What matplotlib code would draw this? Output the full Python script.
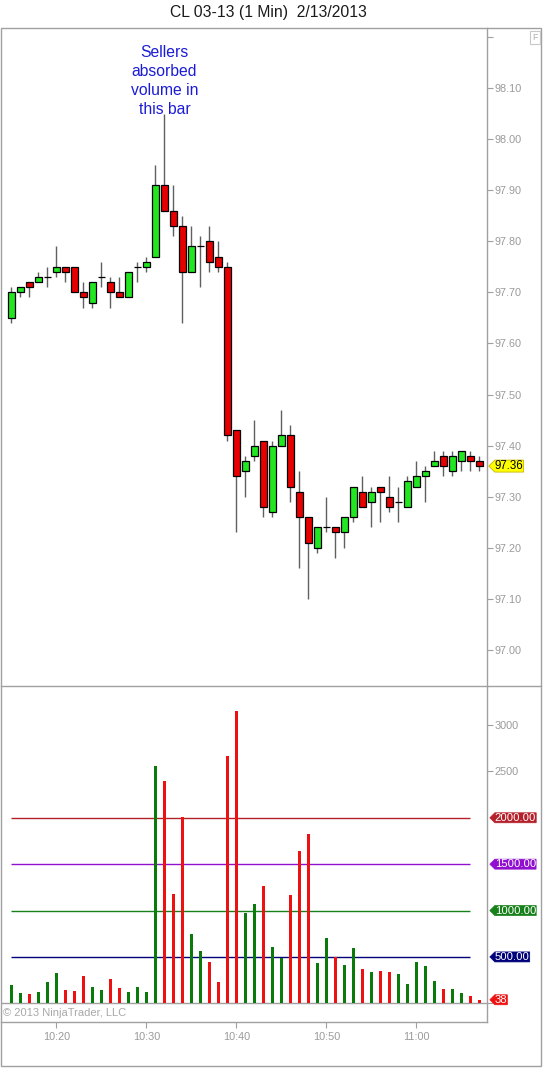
import matplotlib
matplotlib.use("Agg")
import matplotlib.pyplot as plt
import numpy as np
import pandas as pd
from matplotlib.path import Path
from matplotlib.ticker import FixedLocator, FuncFormatter
from matplotlib.patches import Rectangle
from matplotlib.lines import Line2D

plt.rcParams['font.family'] = ['Liberation Sans', 'DejaVu Sans']

# ---------------- data ----------------
times = pd.date_range("2013-02-13 10:15", "2013-02-13 11:07", freq="1min")

opens = [97.65, 97.70, 97.72, 97.72, 97.73, 97.74, 97.75, 97.75, 97.70, 97.68,
         97.73, 97.72, 97.70, 97.69, 97.75, 97.75, 97.77, 97.91, 97.86, 97.83,
         97.74, 97.79, 97.80, 97.77, 97.75, 97.43, 97.35, 97.38, 97.41, 97.27,
         97.40, 97.42, 97.31, 97.26, 97.20, 97.24, 97.24, 97.23, 97.26, 97.31,
         97.29, 97.32, 97.30, 97.29, 97.28, 97.32, 97.34, 97.36, 97.38, 97.35,
         97.37, 97.38, 97.37]
highs = [97.71, 97.71, 97.72, 97.74, 97.75, 97.79, 97.75, 97.75, 97.72, 97.72,
         97.76, 97.73, 97.73, 97.74, 97.76, 97.77, 97.95, 98.05, 97.91, 97.85,
         97.83, 97.81, 97.83, 97.80, 97.76, 97.43, 97.38, 97.45, 97.41, 97.41,
         97.47, 97.44, 97.35, 97.26, 97.24, 97.30, 97.24, 97.26, 97.32, 97.34,
         97.32, 97.32, 97.34, 97.32, 97.34, 97.37, 97.36, 97.39, 97.39, 97.39,
         97.39, 97.39, 97.38]
lows = [97.64, 97.69, 97.69, 97.72, 97.71, 97.73, 97.72, 97.70, 97.67, 97.67,
        97.71, 97.67, 97.69, 97.69, 97.72, 97.74, 97.77, 97.86, 97.81, 97.64,
        97.74, 97.71, 97.74, 97.74, 97.41, 97.23, 97.30, 97.37, 97.26, 97.26,
        97.40, 97.29, 97.16, 97.10, 97.19, 97.23, 97.18, 97.20, 97.25, 97.28,
        97.24, 97.25, 97.27, 97.25, 97.28, 97.32, 97.29, 97.36, 97.34, 97.34,
        97.35, 97.35, 97.35]
closes = [97.70, 97.71, 97.71, 97.73, 97.73, 97.75, 97.74, 97.70, 97.69, 97.72,
          97.73, 97.70, 97.69, 97.74, 97.75, 97.76, 97.91, 97.86, 97.83, 97.74,
          97.79, 97.79, 97.76, 97.75, 97.42, 97.34, 97.37, 97.40, 97.28, 97.40,
          97.42, 97.32, 97.26, 97.21, 97.24, 97.24, 97.23, 97.26, 97.32, 97.28,
          97.31, 97.31, 97.28, 97.29, 97.33, 97.34, 97.35, 97.37, 97.36, 97.38,
          97.39, 97.37, 97.36]
volumes = [196, 111, 100, 121, 228, 325, 143, 132, 293, 175,
           143, 261, 164, 121, 175, 121, 2563, 2392, 1182, 2006,
           743, 560, 443, 228, 2670, 3152, 978, 1075, 1267, 603,
           486, 1171, 1642, 1824, 432, 700, 496, 410, 593, 368,
           336, 346, 336, 314, 207, 443, 400, 239, 154, 154,
           111, 79, 38]

level_values = [2000, 1500, 1000, 500]
level_colors = ["#b5212b", "#9110cf", "#17801a", "#00007a"]
price_ticks = [97.00, 97.10, 97.20, 97.30, 97.40, 97.50, 97.60, 97.70, 97.80, 97.90, 98.00, 98.10, 98.20]
volume_ticks = [0, 2500, 3000]
volume_tick_labels = ["", "2500", "3000"]
time_ticks = ["10:20", "10:30", "10:40", "10:50", "11:00"]
title = "CL 03-13 (1 Min)  2/13/2013"
note = "Sellers\nabsorbed\nvolume in\nthis bar"
note_time = "10:32"
level_end_time = "11:06"

# ---------------- helpers ----------------
W, H = 543, 1068
def fx(px):
    return px / W
def fy(py):
    return 1 - py / H

def minute_of_day(t):
    return t.hour * 60 + t.minute

x = np.array([minute_of_day(t) for t in times], dtype=float)
o = np.array(opens); h = np.array(highs); l = np.array(lows); c = np.array(closes)
v = np.array(volumes)
up = c >= o

GRID = "#a0a0a0"
TXT = "#9a9a9a"

def tag_style(x0, y0, width, height, mutation_size):
    tip = height * 0.5
    verts = [(x0 - tip, y0 + height / 2), (x0, y0 + height), (x0 + width, y0 + height),
             (x0 + width, y0), (x0, y0), (x0 - tip, y0 + height / 2)]
    codes = [Path.MOVETO, Path.LINETO, Path.LINETO, Path.LINETO, Path.LINETO, Path.CLOSEPOLY]
    return Path(verts, codes)

fig = plt.figure(figsize=(W / 100, H / 100), dpi=100)
fig.patch.set_facecolor("white")

ax_p = fig.add_axes([fx(1), fy(686), fx(486.5) - fx(1), fy(28) - fy(686)])
ax_v = fig.add_axes([fx(1), fy(1022), fx(486.5) - fx(1), fy(686) - fy(1022)])

xmin = 620 - 55.4 / 9
xmax = 620 + 430.1 / 9

# ---------------- price panel ----------------
ax_p.vlines(x, l, h, color="#606060", lw=1.0, zorder=2)
colors_c = np.where(up, "#22e622", "#e80000")
ax_p.bar(x, np.abs(c - o), bottom=np.minimum(o, c), width=0.72, color=colors_c,
         edgecolor="black", linewidth=0.9, zorder=3)
ax_p.set_xlim(xmin, xmax)
ax_p.set_ylim(97.00 - 36 / 511, 98.10 + 60 / 511)
ax_p.yaxis.tick_right()
ax_p.yaxis.set_major_locator(FixedLocator(price_ticks))
ax_p.yaxis.set_major_formatter(FuncFormatter(lambda val, pos: "" if val > 98.15 else f"{val:.2f}"))
ax_p.tick_params(axis="y", direction="out", length=4, width=0.8, color=GRID,
                 labelcolor=TXT, labelsize=7.8, pad=1.5)
ax_p.set_xticks([])
for s in ["left", "top", "bottom"]:
    ax_p.spines[s].set_visible(False)
ax_p.spines["right"].set_color(GRID)
ax_p.spines["right"].set_linewidth(1.0)

# annotation above the bar
i_note = list(times.strftime("%H:%M")).index(note_time)
ax_p.annotate(note, xy=(x[i_note], h[i_note]), xytext=(0, -2.5), textcoords="offset points",
              ha="center", va="bottom", color="#1c1cd6", fontsize=11.3, linespacing=1.32)

# last price tag
ax_p.annotate(f"{c[-1]:.2f}", xy=(1, c[-1]), xycoords=ax_p.get_yaxis_transform(),
              xytext=(6, 0), textcoords="offset points", ha="left", va="center",
              fontsize=8.3, color="black", annotation_clip=False,
              bbox=dict(boxstyle=tag_style, fc="#ffff00", ec="#c8b400", lw=0.6, pad=0.18))

# ---------------- volume panel ----------------
colors_v = np.where(up, "#0a7a0a", "#ee1111")
ax_v.bar(x, v, width=0.34, color=colors_v, zorder=3)
ax_v.axhline(0, color=GRID, lw=1.0, zorder=2)
x_end = minute_of_day(pd.Timestamp("2013-02-13 " + level_end_time))
for val, col in zip(level_values, level_colors):
    ax_v.hlines(val, x[0], x_end, color=col, lw=1.0, zorder=2)
    ax_v.annotate(f"{val:.2f}", xy=(1, val), xycoords=ax_v.get_yaxis_transform(),
                  xytext=(6, 0), textcoords="offset points", ha="left", va="center",
                  fontsize=8.1, color="white", annotation_clip=False, zorder=5,
                  bbox=dict(boxstyle=tag_style, fc=col, ec=col, lw=0.5, pad=0.14))
ax_v.annotate(f"{v[-1]}", xy=(1, v[-1]), xycoords=ax_v.get_yaxis_transform(),
              xytext=(6, 0), textcoords="offset points", ha="left", va="center",
              fontsize=8.1, color="white", annotation_clip=False, zorder=5,
              bbox=dict(boxstyle=tag_style, fc="#ee1111", ec="#ee1111", lw=0.5, pad=0.14))

ax_v.set_xlim(xmin, xmax)
ax_v.set_ylim(-18.7 / 46.38 * 500, 317.3 / 46.38 * 500)
ax_v.yaxis.tick_right()
ax_v.yaxis.set_major_locator(FixedLocator(volume_ticks))
ax_v.set_yticklabels(volume_tick_labels)
ax_v.tick_params(axis="y", direction="out", length=4, width=0.8, color=GRID,
                 labelcolor=TXT, labelsize=7.8, pad=1.5)
tick_x = [minute_of_day(pd.Timestamp("2013-02-13 " + t)) for t in time_ticks]
ax_v.set_xticks(tick_x)
ax_v.set_xticklabels(time_ticks)
ax_v.tick_params(axis="x", direction="out", length=4, width=0.8, color=GRID,
                 labelcolor=TXT, labelsize=7.8, pad=3)
for s in ["left", "top"]:
    ax_v.spines[s].set_visible(False)
for s in ["right", "bottom"]:
    ax_v.spines[s].set_color(GRID)
    ax_v.spines[s].set_linewidth(1.0)

ax_v.text(0.005, -100, "© 2013 NinjaTrader, LLC", transform=ax_v.get_yaxis_transform(),
          ha="left", va="center", fontsize=8, color="#a8a8a8")

# ---------------- frame & title ----------------
fig.add_artist(Rectangle((fx(1), fy(1066)), fx(541) - fx(1), fy(28) - fy(1066),
                         transform=fig.transFigure, fill=False, ec=GRID, lw=1.0))
fig.add_artist(Line2D([fx(1), fx(541)], [fy(686), fy(686)], transform=fig.transFigure,
                      color=GRID, lw=1.0))
fig.text(fx(268), fy(13), title, ha="center", va="center", fontsize=11.3, color="#1a1a1a")
fig.text(fx(535), fy(37.5), "F", ha="center", va="center", fontsize=6.5, color="#b0b0b0",
         bbox=dict(boxstyle="square,pad=0.25", fc="white", ec="#c8c8c8", lw=0.8))

fig.savefig("out.png", dpi=100, facecolor="white")
